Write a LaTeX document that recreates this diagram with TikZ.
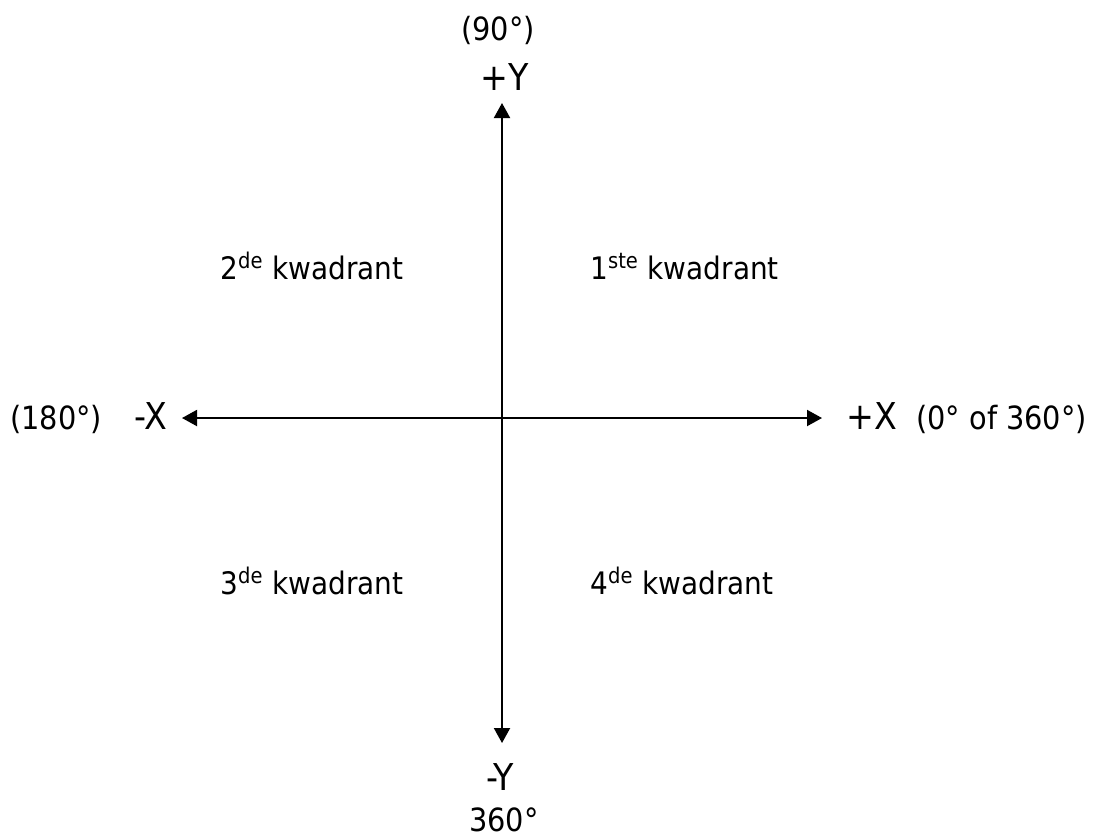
\documentclass[tikz,border=0pt]{standalone}
\usepackage{fontspec}
\setmainfont{DejaVu Sans Condensed}
\usetikzlibrary{arrows.meta,positioning}

\begin{document}
\begin{tikzpicture}[x=0.5pt,y=-0.5pt,>={Triangle[length=7.5pt,width=8pt]},
  axis/.style={<->,line width=1pt},
  axislabel/.style={font=\fontsize{18.5}{21}\selectfont,inner sep=0pt},
  anglelabel/.style={font=\fontsize{16}{19}\selectfont,inner sep=0pt},
  quadlabel/.style={font=\fontsize{15.5}{18}\selectfont,inner sep=0pt,anchor=base west}]
  \useasboundingbox (0,0) rectangle (1096,837);
  % axis end points
  \coordinate (O) at (502,418);
  \coordinate (xpos) at (822,418);
  \coordinate (xneg) at (182,418);
  \coordinate (ypos) at (502,103);
  \coordinate (yneg) at (502,743);
  \draw[axis] (xneg) -- (xpos);
  \draw[axis] (yneg) -- (ypos);
  % axis names
  \node[axislabel,anchor=base west] (lxpos) at (846,429) {+X};
  \node[axislabel,anchor=base east] (lxneg) at (168,429) {-X};
  \node[axislabel,anchor=base] (lypos) at (505,90) {+Y};
  \node[axislabel,anchor=base] (lyneg) at (500,790) {-Y};
  % angles
  \node[anglelabel,anchor=base west] (axpos) at (916,429) {(0° of 360°)};
  \node[anglelabel,anchor=base west] (axneg) at (10,429) {(180°)};
  \node[anglelabel,anchor=base] (aypos) at (498,40) {(90°)};
  \node[anglelabel,anchor=base] (ayneg) at (504,831) {360°};
  % quadrants
  \node[quadlabel] (q1) at (590,279) {1\textsuperscript{ste} kwadrant};
  \node[quadlabel] (q2) at (220,279) {2\textsuperscript{de} kwadrant};
  \node[quadlabel] (q3) at (220,594) {3\textsuperscript{de} kwadrant};
  \node[quadlabel] (q4) at (590,594) {4\textsuperscript{de} kwadrant};
\end{tikzpicture}
\end{document}
